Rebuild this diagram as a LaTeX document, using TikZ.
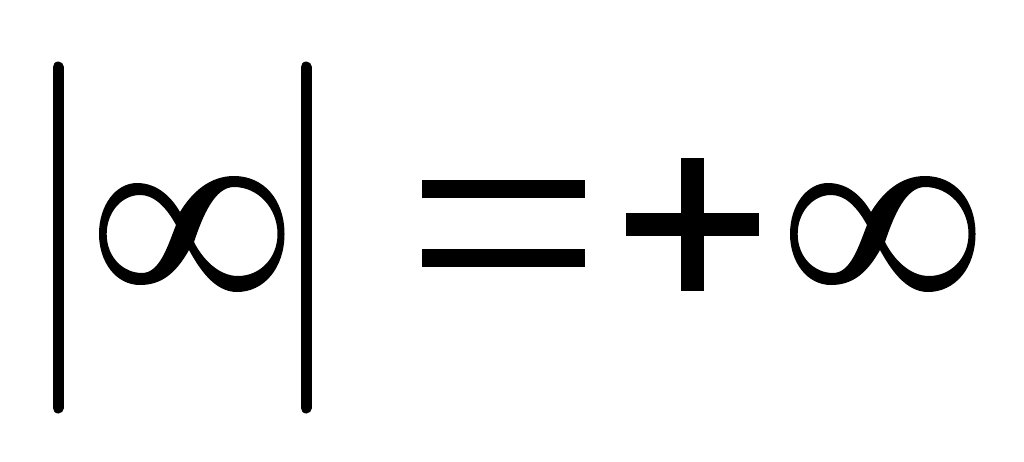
\documentclass[tikz,border=0pt]{standalone}
\begin{document}
\begin{tikzpicture}[x=1pt,y=-1pt,
  barline/.style={line width=11pt,line cap=round},
  blk/.style={fill=black,draw=none},
  infsym/.pic={
    \fill[black,even odd rule]
      % outer contour
      (180,212) .. controls (192,192) and (210,176) .. (234,176)
      .. controls (264,176) and (284.5,200) .. (284.5,234)
      .. controls (284.5,268) and (264,292) .. (237,292)
      .. controls (215,292) and (200,270) .. (189,250)
      .. controls (175,275) and (160,285) .. (140,285)
      .. controls (116,285) and (99,262) .. (99,234)
      .. controls (99,205) and (116,183) .. (137,183)
      .. controls (158,183) and (172,198) .. (180,212) -- cycle
      % left hole
      (176,225) .. controls (165,205) and (153,195) .. (140,195)
      .. controls (122,195) and (106.7,212) .. (106.7,234)
      .. controls (106.7,258) and (124,273) .. (142,273)
      .. controls (160,273) and (168,245) .. (176,225) -- cycle
      % right hole
      (194,242) .. controls (203,215) and (215,187) .. (234,187)
      .. controls (258,187) and (277.5,208) .. (277.5,234)
      .. controls (277.5,258) and (260,276) .. (238,276)
      .. controls (218,276) and (202,258) .. (194,242) -- cycle;
  }]
\useasboundingbox (0,0) rectangle (1024,461);
\fill[white] (0,0) rectangle (1024,461);
% absolute value bars
\draw[barline] (58,67) -- (58,408);
\draw[barline] (306,67) -- (306,408);
% infinity inside the bars
\pic at (0,0) {infsym};
% equals
\fill[blk] (422,180) rectangle (585,198);
\fill[blk] (422,249) rectangle (585,267);
% plus
\fill[blk] (626,213) rectangle (759,236);
\fill[blk] (681,158) rectangle (704,291);
% infinity right
\pic at (691,0) {infsym};
\end{tikzpicture}
\end{document}
